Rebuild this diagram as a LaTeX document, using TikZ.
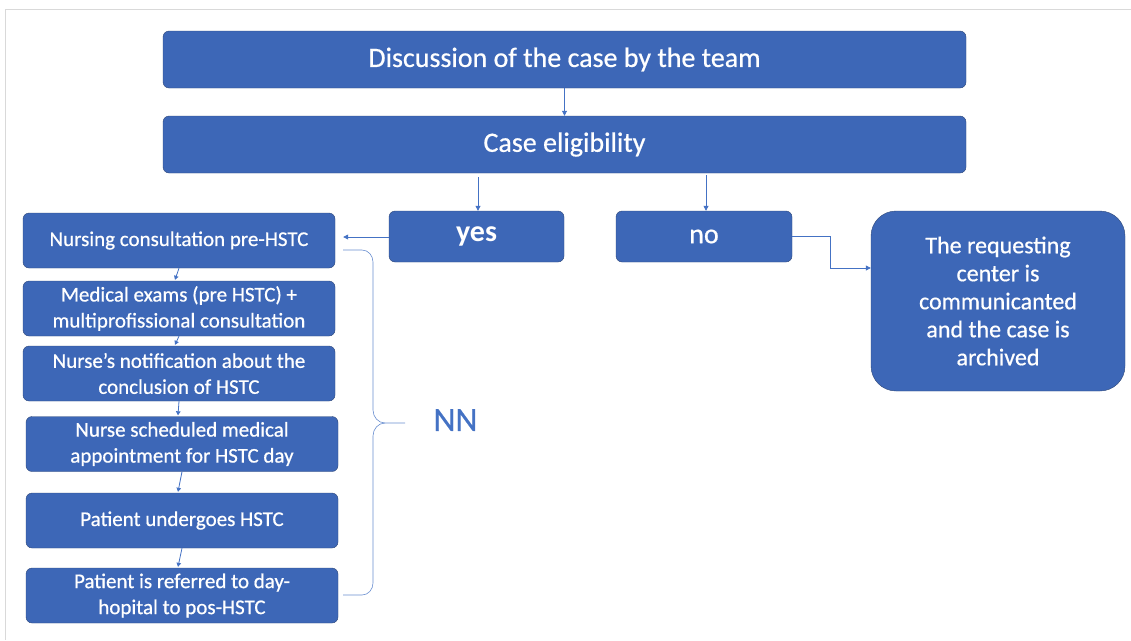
\documentclass[tikz,border=0pt]{standalone}
\usepackage{fontspec}
\setmainfont{Carlito}
\newfontfamily\boxfont{Carlito}[FakeBold=0.6]
\usetikzlibrary{arrows.meta}
\usepackage{xcolor}
\definecolor{boxblue}{RGB}{61,103,183}
\definecolor{boxedge}{RGB}{47,72,120}
\definecolor{linkblue}{RGB}{68,114,196}

\begin{document}
\begin{tikzpicture}[x=1pt, y=-1pt]
        % ================= styles =================
        \tikzset{
            % blue box with white text
            bluebox/.style={rectangle, rounded corners=6pt, draw=boxedge, fill=boxblue, thin, text=white, align=center, inner sep=2pt},
            % left column steps
            stepbox/.style={bluebox, minimum width=312pt, minimum height=55pt, font=\boxfont\fontsize{21}{26}\selectfont},
            % thin blue connector
            link/.style={linkblue, thick, -{Triangle[length=5pt, width=5pt]}},
            smalllink/.style={linkblue, thick, -{Triangle[length=4pt, width=4.5pt]}}
        }
        \useasboundingbox (0,0) rectangle (1131,640);

        % grey frame of the page
        \draw[gray!30, thick] (1131,9) -- (5,9) -- (5,640);

        % ================= top: discussion and eligibility =================
        \node[bluebox, minimum width=803pt, minimum height=57pt, font=\boxfont\fontsize{28}{32}\selectfont] (disc) at (564.5,59.5) {Discussion of the case by the team};
        \node[bluebox, minimum width=803pt, minimum height=57pt, font=\boxfont\fontsize{28}{32}\selectfont] (elig) at (564.5,144.5) {Case eligibility};
        \draw[link] (disc.south) -- (elig.north);

        % ================= yes / no =================
        \node[bluebox, minimum width=175pt, minimum height=51pt, font=\fontsize{30}{32}\selectfont\bfseries] (yes) at (476.5,236.5) {yes};
        \node[bluebox, minimum width=176pt, minimum height=51pt, font=\boxfont\fontsize{28}{32}\selectfont] (no) at (704,236.5) {no};
        \coordinate (yes_top) at (478,177);
        \coordinate (no_top) at (706,175);
        \draw[link] (yes_top) -- (yes.north -| yes_top);
        \draw[link] (no_top) -- (no.north -| no_top);

        % the case is archived
        \node[bluebox, rounded corners=25pt, minimum width=254pt, minimum height=180pt, font=\boxfont\fontsize{24}{28}\selectfont] (arch) at (998,301) {The requesting\\center is\\communicanted\\and the case is\\archived};
        \coordinate (no_bend) at (830,268);
        \draw[link, sharp corners] (no.east) -- (no.east -| no_bend) -- (no_bend) -- (arch.west |- no_bend);

        % ================= left column: NN steps =================
        \node[stepbox] (s1) at (179,240.5) {Nursing consultation pre-HSTC};
        \node[stepbox] (s2) at (179,308.5) {Medical exams (pre HSTC) +\\multiprofissional consultation};
        \node[stepbox] (s3) at (179,373.5) {Nurse’s notification about the\\conclusion of HSTC};
        \node[stepbox] (s4) at (182,444) {Nurse scheduled medical\\appointment for HSTC day};
        \node[stepbox] (s5) at (182,520.5) {Patient undergoes HSTC};
        \node[stepbox] (s6) at (182,595.5) {Patient is referred to day-\\hopital to pos-HSTC};

        \draw[link] (yes.west |- 0,237) -- ([xshift=8pt]s1.east |- 0,237);
        \foreach \a/\b in {s1/s2, s2/s3, s3/s4, s4/s5, s5/s6}
            \draw[smalllink] ([xshift=0pt]\a.south) -- ([xshift=-4pt, yshift=1pt]\b.north);

        % brace grouping the steps
        \coordinate (br_top) at (343,250);
        \coordinate (br_tip) at (405,423);
        \coordinate (br_bot) at (343,595);
        \draw[linkblue!80, semithick] (br_top) -- (362,250) to[out=0, in=90] (373,262) -- (373,410)
            to[out=-90, in=180] (385,423) -- (br_tip);
        \draw[linkblue!80, semithick] (385,423) to[out=180, in=90] (373,436) -- (373,583)
            to[out=-90, in=0] (362,595) -- (br_bot);
        \node[text=linkblue, font=\boxfont\fontsize{34}{36}\selectfont, anchor=west] (nn) at (430,420) {NN};
\end{tikzpicture}
\end{document}
